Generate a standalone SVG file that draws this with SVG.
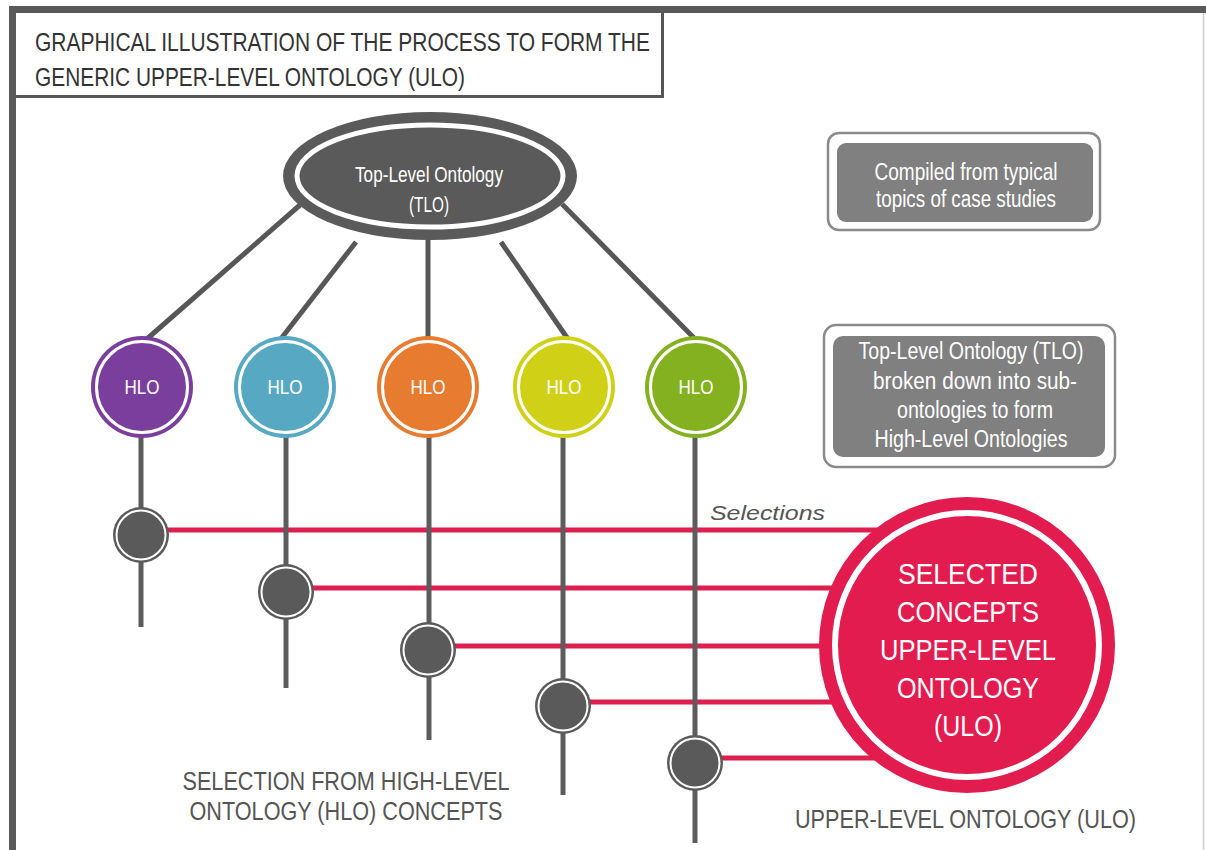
<svg xmlns="http://www.w3.org/2000/svg" width="1206" height="850" viewBox="0 0 1206 850">
  <style>
    .sans { font-family: "Liberation Sans", Arial, sans-serif; }
    .title { font-size: 25px; fill: #333333; }
    .caption { font-size: 25px; fill: #555555; }
    .white { fill: #ffffff; }
    .dark { fill: #5a5a5a; }
    .branch { stroke: #575757; stroke-width: 5; fill: none; }
    .stem { stroke: #5c5c5c; stroke-width: 5; fill: none; }
    .pick { stroke: #dc1f4e; stroke-width: 5; fill: none; }
    .ring { fill: none; stroke: #ffffff; }
    .note-outer { fill: #ffffff; stroke: #8a8a8a; stroke-width: 2.5; }
    .note-inner { fill: #808080; }
  </style>

  <rect width="1206" height="850" fill="#ffffff"/>

  <!-- outer frame -->
  <g id="frame">
    <rect x="9" y="6" width="1197" height="7" fill="#595959"/>
    <rect x="9" y="6" width="7" height="844" fill="#595959"/>
    <line x1="1203.5" y1="13" x2="1203.5" y2="850" stroke="#cfcfcf" stroke-width="1.5"/>
  </g>

  <!-- title block -->
  <g id="title">
    <path d="M16 96.5 H662.5 V13" fill="none" stroke="#555555" stroke-width="3"/>
    <text class="sans title" x="35" y="51" textLength="615" lengthAdjust="spacingAndGlyphs">GRAPHICAL ILLUSTRATION OF THE PROCESS TO FORM THE</text>
    <text class="sans title" x="35" y="86" textLength="430" lengthAdjust="spacingAndGlyphs">GENERIC UPPER-LEVEL ONTOLOGY (ULO)</text>
  </g>

  <!-- connectors -->
  <g id="connectors">
    <!-- TLO to HLO branches -->
    <line class="branch" x1="300" y1="205" x2="140" y2="345"/>
    <line class="branch" x1="356" y1="242" x2="280" y2="340"/>
    <line class="branch" x1="428" y1="230" x2="428" y2="345"/>
    <line class="branch" x1="501" y1="242" x2="570" y2="342"/>
    <line class="branch" x1="562" y1="204" x2="696" y2="340"/>
    <!-- selection lines into the ULO -->
    <line class="pick" x1="160" y1="530" x2="900" y2="530"/>
    <line class="pick" x1="305" y1="588" x2="900" y2="588"/>
    <line class="pick" x1="446" y1="646" x2="900" y2="646"/>
    <line class="pick" x1="582" y1="702" x2="900" y2="702"/>
    <line class="pick" x1="714" y1="758" x2="900" y2="758"/>
    <!-- HLO stems -->
    <line class="stem" x1="141" y1="430" x2="141" y2="627"/>
    <line class="stem" x1="286" y1="430" x2="286" y2="688"/>
    <line class="stem" x1="429" y1="430" x2="429" y2="740"/>
    <line class="stem" x1="563" y1="430" x2="563" y2="795"/>
    <line class="stem" x1="695" y1="430" x2="695" y2="843"/>
  </g>

  <!-- top-level ontology -->
  <g id="tlo">
    <ellipse class="dark" cx="430" cy="176" rx="147" ry="64"/>
    <ellipse cx="430" cy="176" rx="133" ry="51" fill="#5a5a5a" stroke="#ffffff" stroke-width="5"/>
    <text class="sans white" x="429" y="182" font-size="22" text-anchor="middle" textLength="148" lengthAdjust="spacingAndGlyphs">Top-Level Ontology</text>
    <text class="sans white" x="429" y="212" font-size="22" text-anchor="middle" textLength="40" lengthAdjust="spacingAndGlyphs">(TLO)</text>
  </g>

  <!-- high-level ontologies -->
  <g id="hlo-1">
    <circle cx="142" cy="387" r="51" fill="#7a3e9d"/>
    <circle class="ring" cx="142" cy="387" r="45.5" stroke-width="3"/>
    <text class="sans white" x="142" y="394" font-size="21" text-anchor="middle" textLength="35" lengthAdjust="spacingAndGlyphs">HLO</text>
  </g>
  <g id="hlo-2">
    <circle cx="285" cy="387" r="51" fill="#57a9c3"/>
    <circle class="ring" cx="285" cy="387" r="45.5" stroke-width="3"/>
    <text class="sans white" x="285" y="394" font-size="21" text-anchor="middle" textLength="35" lengthAdjust="spacingAndGlyphs">HLO</text>
  </g>
  <g id="hlo-3">
    <circle cx="428" cy="387" r="51" fill="#e77b30"/>
    <circle class="ring" cx="428" cy="387" r="45.5" stroke-width="3"/>
    <text class="sans white" x="428" y="394" font-size="21" text-anchor="middle" textLength="35" lengthAdjust="spacingAndGlyphs">HLO</text>
  </g>
  <g id="hlo-4">
    <circle cx="564" cy="387" r="51" fill="#d0d116"/>
    <circle class="ring" cx="564" cy="387" r="45.5" stroke-width="3"/>
    <text class="sans white" x="564" y="394" font-size="21" text-anchor="middle" textLength="35" lengthAdjust="spacingAndGlyphs">HLO</text>
  </g>
  <g id="hlo-5">
    <circle cx="696" cy="387" r="51" fill="#84b11f"/>
    <circle class="ring" cx="696" cy="387" r="45.5" stroke-width="3"/>
    <text class="sans white" x="696" y="394" font-size="21" text-anchor="middle" textLength="35" lengthAdjust="spacingAndGlyphs">HLO</text>
  </g>

  <!-- selection points -->
  <g id="sel-1">
    <circle class="dark" cx="141" cy="535" r="28"/>
    <circle class="ring" cx="141" cy="535" r="24.5" stroke-width="2"/>
  </g>
  <g id="sel-2">
    <circle class="dark" cx="286" cy="592" r="28"/>
    <circle class="ring" cx="286" cy="592" r="24.5" stroke-width="2"/>
  </g>
  <g id="sel-3">
    <circle class="dark" cx="428" cy="650" r="28"/>
    <circle class="ring" cx="428" cy="650" r="24.5" stroke-width="2"/>
  </g>
  <g id="sel-4">
    <circle class="dark" cx="563" cy="706" r="28"/>
    <circle class="ring" cx="563" cy="706" r="24.5" stroke-width="2"/>
  </g>
  <g id="sel-5">
    <circle class="dark" cx="695" cy="763" r="28"/>
    <circle class="ring" cx="695" cy="763" r="24.5" stroke-width="2"/>
  </g>

  <!-- upper-level ontology -->
  <g id="ulo">
    <circle cx="967" cy="645" r="148" fill="#e31c4f"/>
    <circle class="ring" cx="967" cy="645" r="132" stroke-width="6"/>
    <g class="sans white" font-size="30" text-anchor="middle">
      <text x="968" y="584" textLength="140" lengthAdjust="spacingAndGlyphs">SELECTED</text>
      <text x="968" y="622" textLength="142" lengthAdjust="spacingAndGlyphs">CONCEPTS</text>
      <text x="968" y="660" textLength="176" lengthAdjust="spacingAndGlyphs">UPPER-LEVEL</text>
      <text x="968" y="698" textLength="142" lengthAdjust="spacingAndGlyphs">ONTOLOGY</text>
      <text x="968" y="736" textLength="68" lengthAdjust="spacingAndGlyphs">(ULO)</text>
    </g>
  </g>

  <!-- side notes -->
  <g id="note-compiled">
    <rect class="note-outer" x="828" y="133" width="272" height="97" rx="11"/>
    <rect class="note-inner" x="837" y="143" width="256" height="79" rx="9"/>
    <g class="sans white" font-size="23" text-anchor="middle">
      <text x="966" y="180" textLength="183" lengthAdjust="spacingAndGlyphs">Compiled from typical</text>
      <text x="966" y="207" textLength="180" lengthAdjust="spacingAndGlyphs">topics of case studies</text>
    </g>
  </g>
  <g id="note-tlo">
    <rect class="note-outer" x="824" y="325" width="291" height="142" rx="12"/>
    <rect class="note-inner" x="833" y="336" width="272" height="121" rx="10"/>
    <g class="sans white" font-size="23" text-anchor="middle">
      <text x="971" y="359" textLength="225" lengthAdjust="spacingAndGlyphs">Top-Level Ontology (TLO)</text>
      <text x="975" y="389" textLength="204" lengthAdjust="spacingAndGlyphs">broken down into sub-</text>
      <text x="975" y="418" textLength="156" lengthAdjust="spacingAndGlyphs">ontologies to form</text>
      <text x="971" y="447" textLength="193" lengthAdjust="spacingAndGlyphs">High-Level Ontologies</text>
    </g>
  </g>

  <!-- captions -->
  <g id="labels">
    <text class="sans" x="710" y="520" font-size="20" font-style="italic" fill="#555555" textLength="115" lengthAdjust="spacingAndGlyphs">Selections</text>
    <text class="sans caption" x="346" y="790" text-anchor="middle" textLength="327" lengthAdjust="spacingAndGlyphs">SELECTION FROM HIGH-LEVEL</text>
    <text class="sans caption" x="346" y="820" text-anchor="middle" textLength="313" lengthAdjust="spacingAndGlyphs">ONTOLOGY (HLO) CONCEPTS</text>
    <text class="sans caption" x="795" y="828" textLength="341" lengthAdjust="spacingAndGlyphs">UPPER-LEVEL ONTOLOGY (ULO)</text>
  </g>
</svg>
